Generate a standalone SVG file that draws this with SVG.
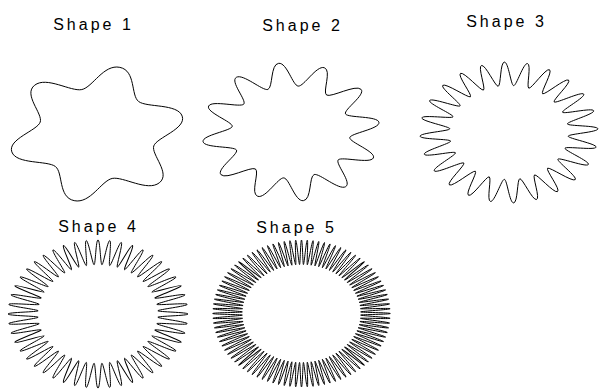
<svg xmlns="http://www.w3.org/2000/svg" width="599" height="390" viewBox="0 0 599 390">
<style>
.ln{fill:none;stroke:#000;stroke-width:1}
.lbl{font-family:"Liberation Sans",Arial,sans-serif;font-size:16px;letter-spacing:3px;text-anchor:middle;fill:#000}
</style>
<defs>
<path id="p1" vector-effect="non-scaling-stroke" d="M69.28,-40 C76.90,-26.79 120,-22.87 120,0 C120,22.87 76.90,26.79 69.28,40"/>
<path id="p2" vector-effect="non-scaling-stroke" d="M77.27,-20.71 C79.24,-13.35 120,-11.44 120,0 C120,11.44 79.24,13.35 77.27,20.71"/>
<path id="p3" vector-effect="non-scaling-stroke" d="M79.32,-10.44 C79.81,-6.67 120,-5.72 120,0 C120,5.72 79.81,6.67 79.32,10.44"/>
<path id="p4" vector-effect="non-scaling-stroke" d="M79.83,-5.23 C79.95,-3.33 120,-2.86 120,0 C120,2.86 79.95,3.33 79.83,5.23"/>
<path id="p5" vector-effect="non-scaling-stroke" d="M79.96,-2.62 C79.99,-1.66 120,-1.43 120,0 C120,1.43 79.99,1.66 79.96,2.62"/>
<g id="d2a"><use href="#p2"/><use href="#p2" transform="rotate(30)"/></g>
<g id="d3a"><use href="#p3"/><use href="#p3" transform="rotate(15)"/></g>
<g id="d3b"><use href="#d3a"/><use href="#d3a" transform="rotate(30)"/></g>
<g id="d4a"><use href="#p4"/><use href="#p4" transform="rotate(7.5)"/></g>
<g id="d4b"><use href="#d4a"/><use href="#d4a" transform="rotate(15)"/></g>
<g id="d4c"><use href="#d4b"/><use href="#d4b" transform="rotate(30)"/></g>
<g id="d5a"><use href="#p5"/><use href="#p5" transform="rotate(3.75)"/></g>
<g id="d5b"><use href="#d5a"/><use href="#d5a" transform="rotate(7.5)"/></g>
<g id="d5c"><use href="#d5b"/><use href="#d5b" transform="rotate(15)"/></g>
<g id="d5d"><use href="#d5c"/><use href="#d5c" transform="rotate(30)"/></g>
</defs>
<rect width="599" height="390" fill="#fff"/>
<g id="labels">
<text class="lbl" x="93.5" y="30">Shape 1</text>
<text class="lbl" x="302.5" y="31">Shape 2</text>
<text class="lbl" x="506.5" y="27">Shape 3</text>
<text class="lbl" x="98.5" y="232">Shape 4</text>
<text class="lbl" x="296.5" y="233">Shape 5</text>
</g>
<g id="shape1" class="ln" transform="translate(97,134) scale(0.735,0.575) rotate(-15)">
<use href="#p1"/><use href="#p1" transform="rotate(60)"/><use href="#p1" transform="rotate(120)"/><use href="#p1" transform="rotate(180)"/><use href="#p1" transform="rotate(240)"/><use href="#p1" transform="rotate(300)"/>
</g>
<g id="shape2" class="ln" transform="translate(291,132) scale(0.74,0.578) rotate(22)">
<use href="#d2a"/><use href="#d2a" transform="rotate(60)"/><use href="#d2a" transform="rotate(120)"/><use href="#d2a" transform="rotate(180)"/><use href="#d2a" transform="rotate(240)"/><use href="#d2a" transform="rotate(300)"/>
</g>
<g id="shape3" class="ln" transform="translate(509,132.5) scale(0.742,0.5875) rotate(12)">
<use href="#d3b"/><use href="#d3b" transform="rotate(60)"/><use href="#d3b" transform="rotate(120)"/><use href="#d3b" transform="rotate(180)"/><use href="#d3b" transform="rotate(240)"/><use href="#d3b" transform="rotate(300)"/>
</g>
<g id="shape4" class="ln" transform="translate(98,314) scale(0.75,0.617)">
<use href="#d4c"/><use href="#d4c" transform="rotate(60)"/><use href="#d4c" transform="rotate(120)"/><use href="#d4c" transform="rotate(180)"/><use href="#d4c" transform="rotate(240)"/><use href="#d4c" transform="rotate(300)"/>
</g>
<g id="shape5" class="ln" transform="translate(301.5,313.5) scale(0.74,0.612)">
<use href="#d5d"/><use href="#d5d" transform="rotate(60)"/><use href="#d5d" transform="rotate(120)"/><use href="#d5d" transform="rotate(180)"/><use href="#d5d" transform="rotate(240)"/><use href="#d5d" transform="rotate(300)"/>
</g>
</svg>
